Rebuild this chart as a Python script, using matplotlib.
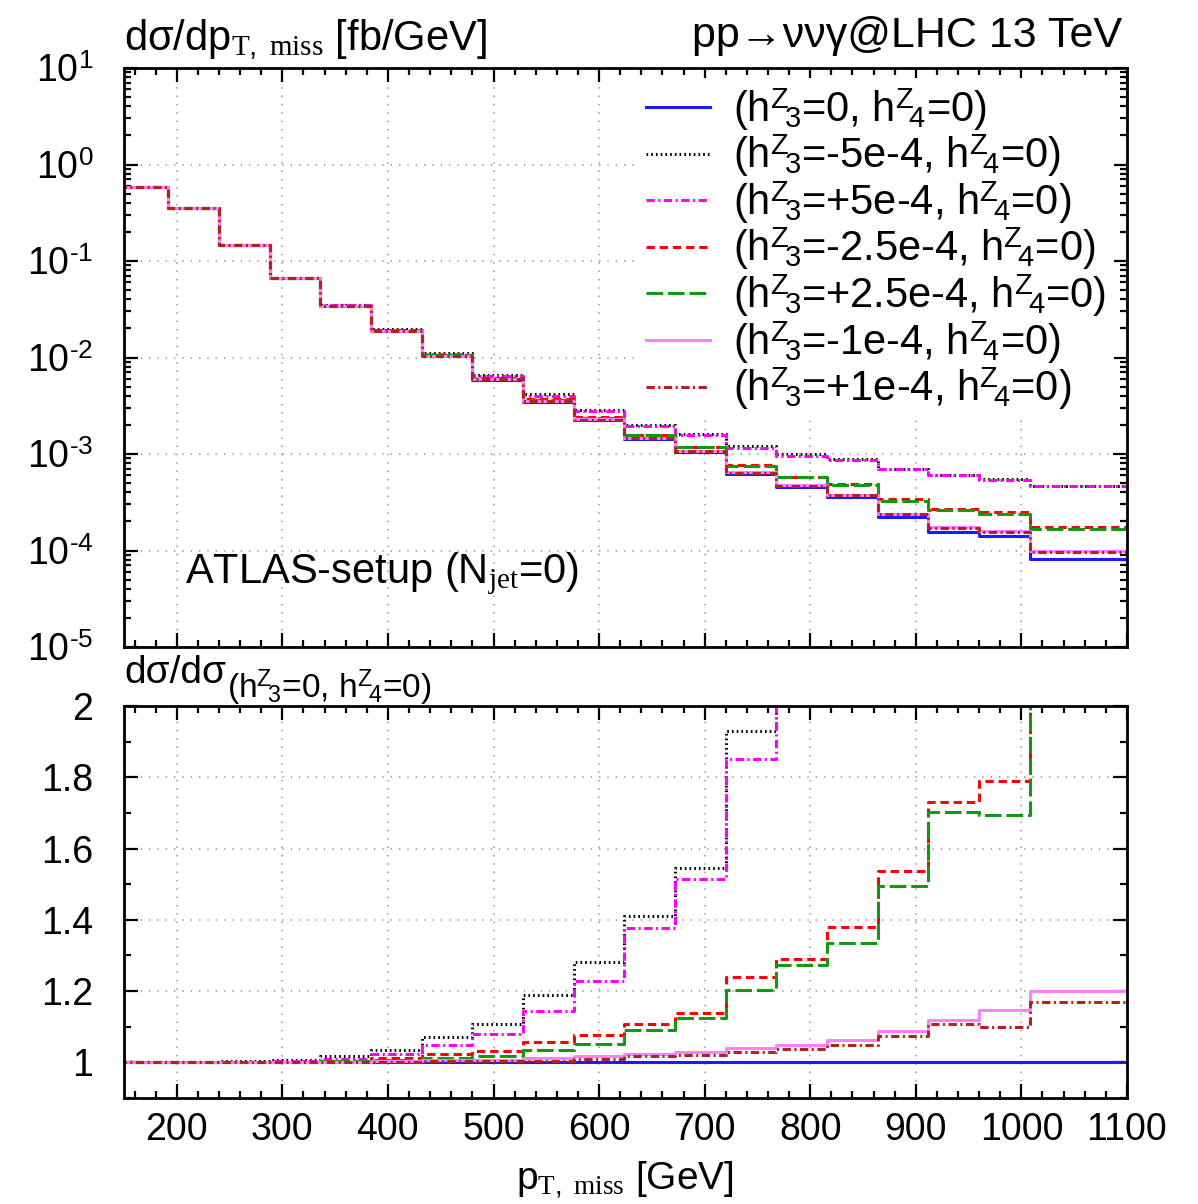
import matplotlib
matplotlib.use("Agg")
import matplotlib.pyplot as plt
from matplotlib.ticker import FuncFormatter, MultipleLocator, LogLocator, NullFormatter
import numpy as np

plt.rcParams.update({
    "font.family": ["Liberation Sans", "DejaVu Sans"],
    "mathtext.fontset": "custom",
    "mathtext.rm": "Liberation Sans",
    "mathtext.it": "Liberation Serif",
    "mathtext.bf": "Liberation Sans:bold",
    "mathtext.sf": "Liberation Sans",
    "lines.scale_dashes": False,
})

# bin edges in GeV (last bin runs past the axis end)
edges = [144, 192, 240, 288, 336, 384, 432, 480, 528, 576, 624, 672,
         720, 768, 816, 864, 912, 960, 1008, 1100]

# SM (h3=0, h4=0) differential cross section [fb/GeV]
sm = [0.59, 0.356, 0.146, 0.0662, 0.0343, 0.0189, 0.0104, 0.0059, 3.5e-3,
      2.25e-3, 1.43e-3, 1.04e-3, 6.2e-4, 4.5e-4, 3.56e-4, 2.2e-4, 1.55e-4,
      1.4e-4, 8.2e-5]

# ratios to SM (tail values from upper panel)
r_m5 = [1.0, 1.0, 1.003, 1.006, 1.017, 1.035, 1.072, 1.108, 1.188, 1.282,
        1.411, 1.546, 1.931, 2.2, 2.5, 3.2, 3.9, 3.9, 5.7]
r_p5 = [1.0, 1.0, 1.002, 1.004, 1.01, 1.024, 1.05, 1.08, 1.145, 1.228,
        1.377, 1.514, 1.85, 2.13, 2.44, 3.18, 3.87, 3.86, 5.65]
r_m25 = [1.0, 1.0, 1.0, 1.002, 1.005, 1.011, 1.024, 1.031, 1.056, 1.078,
         1.107, 1.139, 1.241, 1.291, 1.379, 1.537, 1.732, 1.791, 2.13]
r_p25 = [1.0, 1.0, 1.0, 1.001, 1.003, 1.006, 1.011, 1.017, 1.035, 1.052,
         1.091, 1.124, 1.202, 1.272, 1.335, 1.495, 1.704, 1.695, 2.05]
r_m1 = [1.0, 1.0, 1.0, 1.0, 1.002, 1.004, 1.006, 1.008, 1.011, 1.017,
        1.023, 1.028, 1.040, 1.049, 1.064, 1.089, 1.118, 1.146, 1.199]
r_p1 = [1.0, 1.0, 1.0, 1.0, 1.001, 1.002, 1.003, 1.004, 1.005, 1.010,
        1.018, 1.022, 1.029, 1.039, 1.049, 1.074, 1.109, 1.10, 1.169]
r_sm = [1.0] * len(sm)

labels = ["0", "-5e-4", "+5e-4", "-2.5e-4", "+2.5e-4", "-1e-4", "+1e-4"]
ratios = [r_sm, r_m5, r_p5, r_m25, r_p25, r_m1, r_p1]
colors = ["#1a1aff", "#000000", "#ff00ff", "#ff0000", "#119911", "#ff80ff", "#b22222"]
styles = ["-", (0, (1.2, 2.2)), (0, (6, 2.5, 1.5, 2.5)), (0, (6, 3.5)),
          (0, (12, 3.5)), "-", (0, (6, 2.5, 1.5, 2.5))]

fig = plt.figure(figsize=(11.98, 12.04), dpi=100)
ax1 = fig.add_axes([0.1035, 0.4626, 0.8372, 0.4809])
ax2 = fig.add_axes([0.1035, 0.0880, 0.8372, 0.3256])

# gnuplot-like h^Z_3: the index sits a bit right of the superscript
hz = r"$\mathrm{h}^{\mathrm{Z}}\!{}_{\mathrm{%s}}$"
sm_arr = np.array(sm)
for lab, r, c, ls in zip(labels, ratios, colors, styles):
    r = np.array(r)
    y_up = sm_arr * r
    ax1.step(edges, np.append(y_up, y_up[-1]), where="post", color=c, lw=2.2, ls=ls,
             label="(" + hz % "3" + "=" + lab + ", " + hz % "4" + "=0)")
    ax2.step(edges, np.append(r, r[-1]), where="post", color=c, lw=2.2, ls=ls)

for ax in (ax1, ax2):
    ax.set_xlim(150, 1100)
    ax.xaxis.set_major_locator(MultipleLocator(100))
    ax.xaxis.set_minor_locator(MultipleLocator(20))
    ax.tick_params(which="both", direction="in", top=True, right=True, labelsize=27)
    ax.tick_params(which="major", length=10, width=1.6)
    ax.tick_params(which="minor", length=5, width=1.6)
    ax.tick_params(axis="y", pad=22)
    ax.tick_params(axis="x", pad=10)
    ax.grid(True, which="major", ls=(0, (1, 5)), color="#999999", lw=1.2)
    for s in ax.spines.values():
        s.set_linewidth(2)

ax1.set_yscale("log")
ax1.set_ylim(1e-5, 10)
ax1.yaxis.set_major_locator(LogLocator(base=10, numticks=20))
ax1.yaxis.set_minor_locator(LogLocator(base=10, subs=np.arange(2, 10), numticks=20))
ax1.yaxis.set_minor_formatter(NullFormatter())
ax1.yaxis.set_major_formatter(
    FuncFormatter(lambda v, p: r"10$^{\text{%d}}$" % round(np.log10(v))))
ax1.tick_params(axis="x", labelbottom=False)

ax2.set_ylim(0.9, 2.0)
ax2.yaxis.set_major_locator(MultipleLocator(0.2))
ax2.yaxis.set_minor_locator(MultipleLocator(0.1))
ax2.yaxis.set_major_formatter(FuncFormatter(lambda v, p: "%g" % round(v, 1)))

leg = ax1.legend(loc="upper right", bbox_to_anchor=(1.0, 1.005), fontsize=30,
                 handlelength=1.55, handletextpad=0.55, labelspacing=0.0,
                 borderpad=0.2, borderaxespad=0.3, frameon=True, fancybox=False,
                 framealpha=1.0)
leg.get_frame().set_edgecolor("none")
leg.get_frame().set_facecolor("white")

ax1.text(0.061, 0.11, r"ATLAS-setup (N$_{\mathit{jet}}$=0)", transform=ax1.transAxes,
         fontsize=30, va="baseline")

fig.text(0.1035, 0.9585, r"dσ/dp$_{\mathit{T,\ miss}}$ [fb/GeV]", fontsize=30, va="baseline")
fig.text(0.937, 0.961, "pp→ννγ@LHC 13 TeV", fontsize=31, va="baseline", ha="right")

t_low = fig.text(0.1035, 0.4327, "dσ/dσ", fontsize=28, va="baseline")
ax2.annotate("(" + hz % "3" + "=0, " + hz % "4" + "=0)",
             xy=(1, 0), xycoords=t_low, xytext=(1, -5), textcoords="offset points",
             fontsize=24, va="baseline", ha="left", annotation_clip=False)

fig.text(0.5217, 0.0116, r"p$_{\mathit{T,\ miss}}$ [GeV]", fontsize=28, va="baseline", ha="center")

fig.savefig("out.png", dpi=100)
